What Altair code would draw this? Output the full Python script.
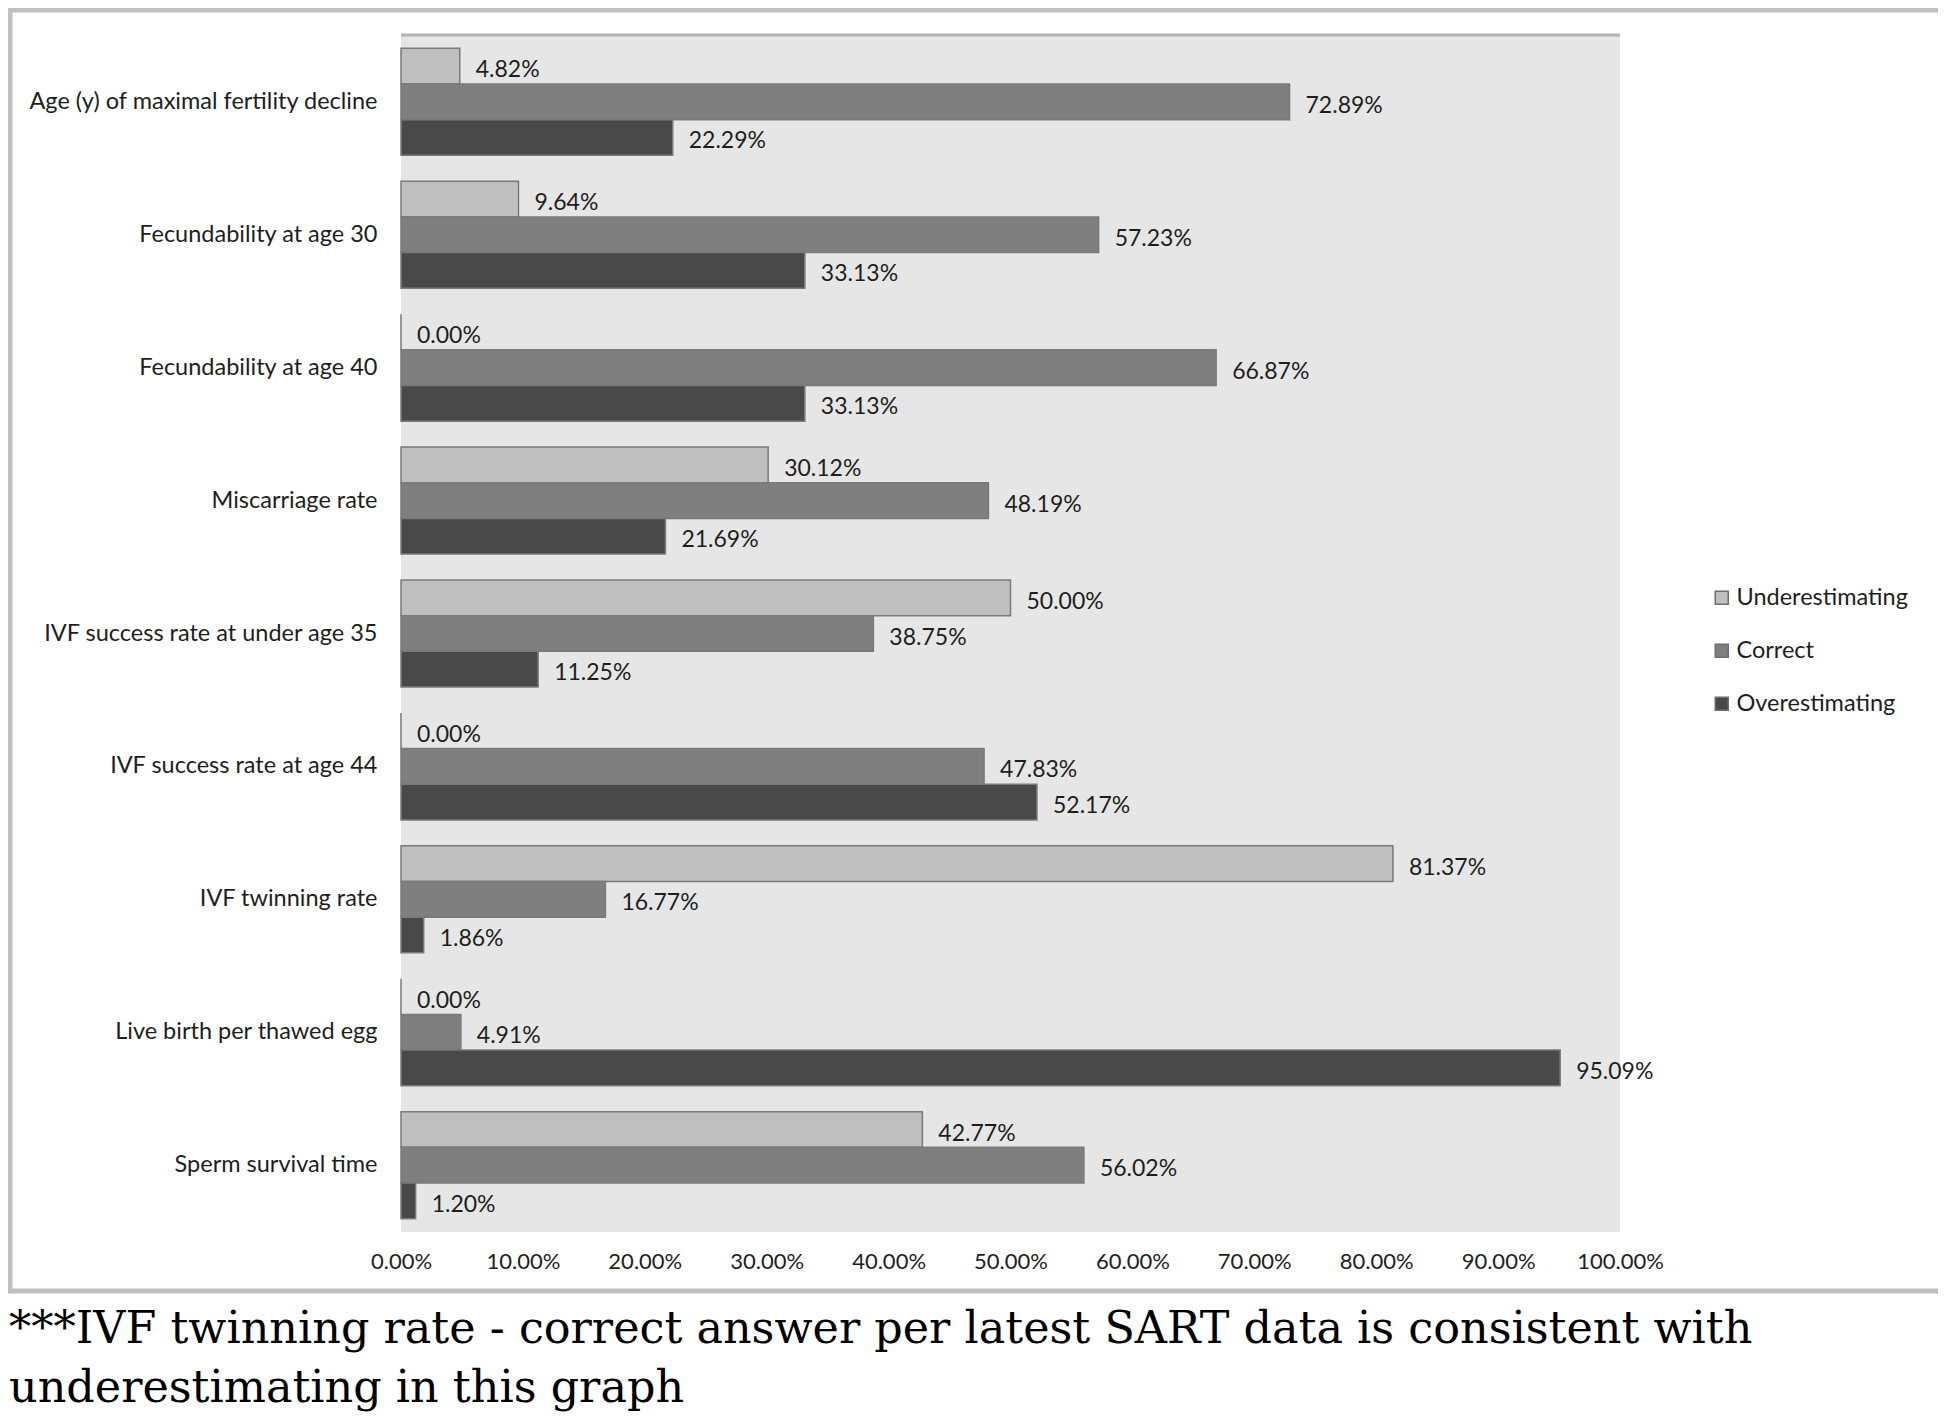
import altair as alt
import pandas as pd

categories = [
    "Age (y) of maximal fertility decline",
    "Fecundability at age 30",
    "Fecundability at age 40",
    "Miscarriage rate",
    "IVF success rate at  under age 35",
    "IVF success rate at age 44",
    "IVF twinning rate",
    "Live birth per thawed egg",
    "Sperm survival time",
]
series_names = ["Underestimating", "Correct", "Overestimating"]
underestimating = [4.82, 9.64, 0.00, 30.12, 50.00, 0.00, 81.37, 0.00, 42.77]
correct = [72.89, 57.23, 66.87, 48.19, 38.75, 47.83, 16.77, 4.91, 56.02]
overestimating = [22.29, 33.13, 33.13, 21.69, 11.25, 52.17, 1.86, 95.09, 1.20]
series_colors = ["#bfbfbf", "#7f7f7f", "#494949"]
x_ticks = [0.0, 0.1, 0.2, 0.3, 0.4, 0.5, 0.6, 0.7, 0.8, 0.9, 1.0]
footnote_lines = [
    "***IVF twinning rate - correct answer per latest SART data is consistent with",
    "underestimating in this graph",
]

rows = []
for name, vals in zip(series_names, [underestimating, correct, overestimating]):
    for c, v in zip(categories, vals):
        rows.append({"category": c, "series": name, "value": v / 100.0})
df = pd.DataFrame(rows)

W, H = 1219, 1197
LBL = "Lato"

y_enc = alt.Y(
    "category:N",
    sort=categories,
    scale=alt.Scale(paddingInner=0.195, paddingOuter=0.1),
    axis=alt.Axis(
        title=None, domain=False, ticks=False, labelPadding=24,
        labelFont=LBL, labelFontSize=23.5, labelColor="#1e1e1e", labelLimit=400,
    ),
)
yoff_enc = alt.YOffset("series:N", sort=series_names,
                       scale=alt.Scale(paddingInner=0, paddingOuter=0))
x_enc = alt.X(
    "value:Q",
    scale=alt.Scale(domain=[0, 1], nice=False, zero=True),
    axis=alt.Axis(
        title=None, domain=False, ticks=False, grid=False, values=x_ticks,
        format=".2%", labelPadding=19, labelFont=LBL, labelFontSize=22,
        labelColor="#1e1e1e", labelOverlap=False, labelFlush=False,
    ),
)
color_enc = alt.Color(
    "series:N",
    sort=series_names,
    scale=alt.Scale(domain=series_names, range=series_colors),
    legend=alt.Legend(
        orient="none", legendX=1309, legendY=551, title=None,
        symbolType="square", symbolSize=169, symbolStrokeColor="#6f6f6f",
        symbolStrokeWidth=1.5, labelFont=LBL, labelFontSize=23.5,
        labelColor="#1e1e1e", rowPadding=28, labelOffset=3, labelLimit=300,
    ),
)

bars = alt.Chart(df).mark_bar(stroke="#7a7a7a", strokeWidth=1.5).encode(
    y=y_enc, yOffset=yoff_enc, x=x_enc, color=color_enc
)
labels = alt.Chart(df).mark_text(
    align="left", baseline="middle", dx=16, dy=4,
    font=LBL, fontSize=23, color="#1e1e1e",
).encode(
    y=alt.Y("category:N", sort=categories),
    yOffset=alt.YOffset("series:N", sort=series_names),
    x=alt.X("value:Q"),
    text=alt.Text("value:Q", format=".2%"),
)

top_rule = alt.Chart(pd.DataFrame({"a": [0]})).mark_rule(
    color="#b4b4b4", strokeWidth=3
).encode(x=alt.value(0), x2=alt.value(W), y=alt.value(0))

frame = alt.Chart(pd.DataFrame({"a": [0]})).mark_rect(
    fill="transparent", stroke="#c0c0c0", strokeWidth=5
).encode(x=alt.value(-391), x2=alt.value(1542), y=alt.value(-25), y2=alt.value(1256))

FOOT_FONT = "DejaVu Serif"
foot1 = alt.Chart(pd.DataFrame({"t": [footnote_lines[0]]})).mark_text(
    align="left", baseline="middle", font=FOOT_FONT, fontSize=44.5, color="#000000"
).encode(text="t:N", x=alt.value(-392), y=alt.value(1295))
foot2 = alt.Chart(pd.DataFrame({"t": [footnote_lines[1]]})).mark_text(
    align="left", baseline="middle", font=FOOT_FONT, fontSize=44.5, color="#000000"
).encode(text="t:N", x=alt.value(-392), y=alt.value(1354))

chart = alt.layer(bars, labels, top_rule, frame, foot1, foot2).properties(
    width=W, height=H,
    autosize=alt.AutoSizeParams(type="none"),
    padding={"left": 393, "top": 27, "right": 318, "bottom": 184},
    background="white",
).configure_view(stroke=None, fill="#e6e6e6")

chart.save("out.html", embed_options={"renderer": "svg", "actions": False})
